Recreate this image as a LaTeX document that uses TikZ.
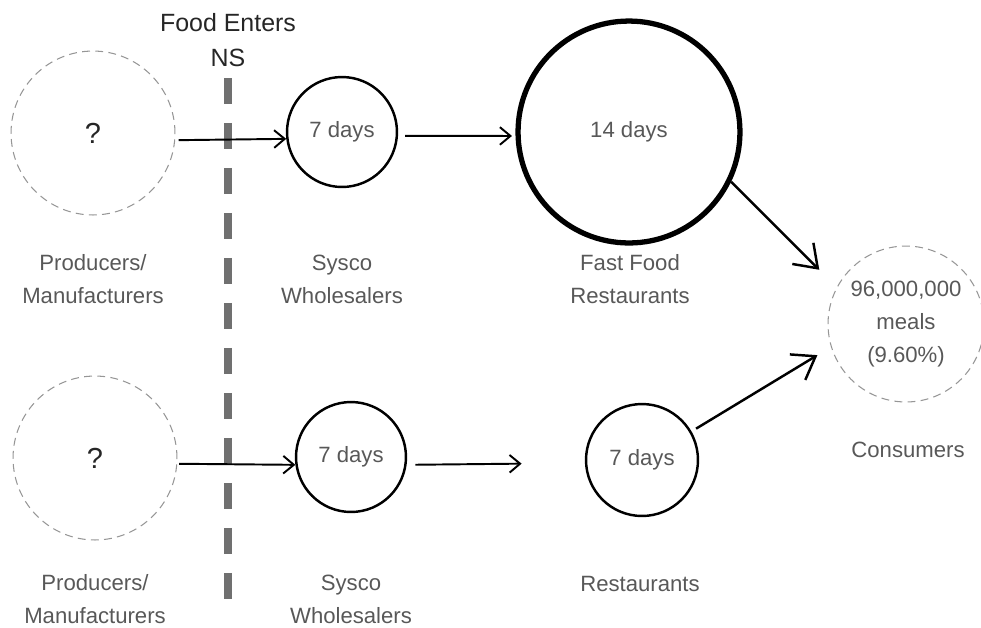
\documentclass[tikz,border=0pt]{standalone}
\usepackage{fontspec}
\setmainfont{Liberation Sans}
\usetikzlibrary{arrows.meta}
\definecolor{txtgray}{RGB}{88,88,88}
\definecolor{ringgray}{RGB}{150,150,150}
\definecolor{nsgray}{RGB}{112,112,112}
\newcommand\stagelbl[4]{
  \node[lbl] (#1) at (#2,#3) {#4};
}

\begin{document}
\begin{tikzpicture}[x=0.02cm, y=-0.02cm,
  every node/.style={inner sep=0pt, font=\fontsize{12.6}{18.8}\selectfont},
  lbl/.style={align=center, text=txtgray},
  open/.style={circle, draw=ringgray, line width=0.6pt, dash pattern=on 4.5pt off 3pt, minimum size=#1*0.04cm},
  ask/.style={text=black!85, font=\fontsize{16.5}{20}\selectfont},
  ring/.style={circle, draw, line width=1.4pt, text=txtgray, minimum size=#1*0.04cm},
  flow/.style={-{Straight Barb[length=6pt, width=10pt]}, line width=1.1pt},
  feed/.style={-{Straight Barb[length=12pt, width=17pt]}, line width=1.4pt}]
\useasboundingbox (0,0) rectangle (981,627);

% border line
\draw[nsgray, line width=5pt, dash pattern=on 14.8pt off 10.8pt] (228,78) -- (228,600);
\node[align=center, text=black!85, font=\fontsize{14.2}{20}\selectfont] (ns) at (228,40) {Food Enters\\NS};

% upper chain
\node[open=82, ask] (prodA) at (93,133) {?};
\node[ring=55] (sysA) at (342,132) {7 days};
\node[ring=111, line width=3pt] (fastfood) at (629,132) {14 days};
\node[open=78, align=center, text=txtgray] (cons) at (906,324) {96,000,000\\meals\\(9.60\%)};

% lower chain
\node[open=82, ask] (prodB) at (95,458) {?};
\node[ring=55] (sysB) at (351,457) {7 days};
\node[ring=56] (rest) at (642,460) {7 days};

\stagelbl{labProdA}{93}{279}{Producers/\\Manufacturers}
\stagelbl{labSysA}{342}{279}{Sysco\\Wholesalers}
\stagelbl{labFast}{630}{279}{Fast Food\\Restaurants}
\stagelbl{labCons}{908}{450}{Consumers}
\stagelbl{labProdB}{95}{599}{Producers/\\Manufacturers}
\stagelbl{labSysB}{351}{599}{Sysco\\Wholesalers}
\stagelbl{labRest}{640}{584}{Restaurants}

\draw[flow, shorten <=2pt] (prodA.-5) -- (sysA.187);
\draw[flow, shorten <=4pt, shorten >=2pt] (sysA.-4) -- (fastfood.182);
\draw[feed, shorten >=14pt] (fastfood.-26) -- (cons.152);
\draw[flow, shorten <=1pt] (prodB.-4) -- (sysB.188);
\draw[flow, shorten <=5pt, shorten >=36pt] (sysB.-8) -- (rest.183);
\draw[feed, shorten <=3pt, shorten >=9pt] (rest.30) -- (cons.197);
\end{tikzpicture}
\end{document}
